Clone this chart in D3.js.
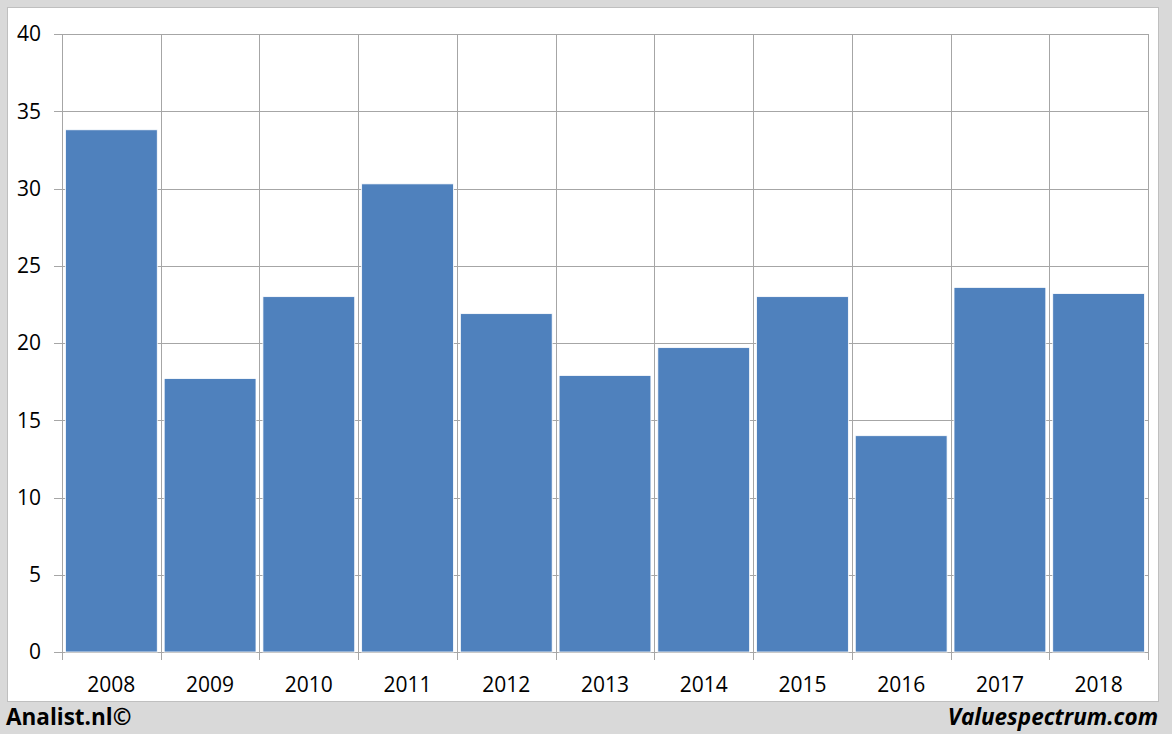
<!DOCTYPE html>
<html><head><meta charset="utf-8">
<script src="https://cdn.jsdelivr.net/npm/d3@7"></script>
<style>body{margin:0;background:#d9d9d9;}svg{display:block;}</style>
</head><body>
<svg id="c" width="1172" height="734"></svg>
<script>
const years = ["2008","2009","2010","2011","2012","2013","2014","2015","2016","2017","2018"];
const values = [33.8,17.7,23.0,30.3,21.9,17.9,19.7,23.0,14.0,23.6,23.2];
const yTicks = [0,5,10,15,20,25,30,35,40];

const svg = d3.select("#c");
const font = "'Open Sans', 'Liberation Sans', sans-serif";
svg.append("rect").attr("width",1172).attr("height",734).attr("fill","#d9d9d9");
svg.append("rect").attr("x",7.5).attr("y",7.5).attr("width",1151).attr("height",694)
  .attr("fill","#fff").attr("stroke","#bfbfbf").attr("stroke-width",1);

const L=62,R=1148,T=34,B=652;
const x = d3.scaleBand().domain(years).range([L,R]).paddingInner(0.07).paddingOuter(0.035);
const xb = d3.scaleBand().domain(years).range([L,R]);
const y = d3.scaleLinear().domain([0,40]).range([B,T]);

const g = svg.append("g");
g.selectAll("line.h").data(yTicks).join("line")
  .attr("x1",L-8).attr("x2",R).attr("y1",d=>Math.round(y(d))+0.5).attr("y2",d=>Math.round(y(d))+0.5)
  .attr("stroke","#a6a6a6").attr("stroke-width",1);
const bounds = years.map(d=>xb(d)).concat([R]);
g.selectAll("line.v").data(bounds).join("line")
  .attr("x1",d=>Math.round(d)+0.5).attr("x2",d=>Math.round(d)+0.5)
  .attr("y1",T).attr("y2",B+8)
  .attr("stroke","#a6a6a6").attr("stroke-width",1);

g.selectAll("rect.bar").data(values).join("rect")
  .attr("x",(d,i)=>x(years[i])).attr("width",x.bandwidth())
  .attr("y",d=>y(d)).attr("height",d=>B-y(d))
  .attr("fill","#4f81bd").attr("stroke","#ffffff").attr("stroke-width",0.8);

g.selectAll("text.y").data(yTicks).join("text")
  .attr("x",41).attr("y",d=>y(d)).attr("dy","0.35em").attr("text-anchor","end")
  .attr("font-family",font).attr("font-size",21).attr("fill","#000").text(d=>d);
g.selectAll("text.x").data(years).join("text")
  .attr("x",d=>xb(d)+xb.bandwidth()/2).attr("y",685).attr("dy","0.35em").attr("text-anchor","middle")
  .attr("font-family",font).attr("font-size",21).attr("fill","#000").text(d=>d);

svg.append("text").attr("x",6).attr("y",725).attr("font-family",font).attr("font-weight","bold")
  .attr("font-size",22.5).attr("fill","#000").text("Analist.nl©");
svg.append("text").attr("x",1158).attr("y",725).attr("text-anchor","end").attr("font-family",font)
  .attr("font-weight","bold").attr("font-style","italic").attr("font-size",22.5).attr("fill","#000").text("Valuespectrum.com");
</script>
</body></html>
